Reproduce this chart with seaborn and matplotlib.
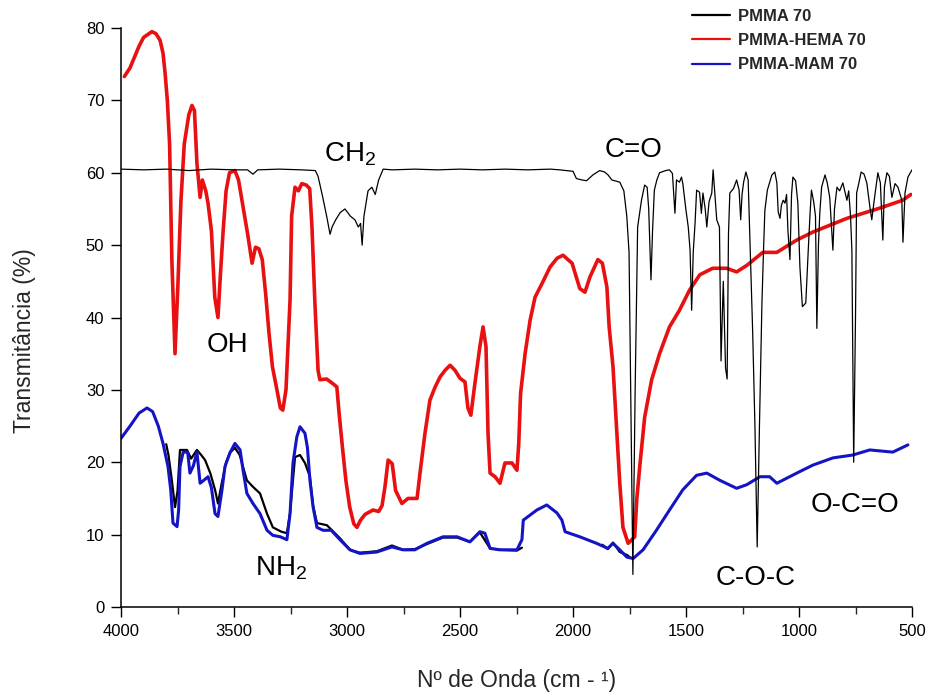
import numpy as np
import pandas as pd
import matplotlib
matplotlib.use("Agg")
import matplotlib.pyplot as plt
import seaborn as sns

# ---------------- data ----------------
pmma_wn = [4000, 3900, 3800, 3700, 3600, 3500, 3440, 3416, 3395, 3300, 3200, 3140, 3128, 3110,
           3090, 3075, 3066, 3050, 3030, 3009, 2985, 2965, 2950, 2940, 2933, 2925, 2907, 2890,
           2875, 2860, 2840, 2800, 2700, 2600, 2500, 2400, 2300, 2200, 2100, 2059, 2000, 1985,
           1960, 1940, 1912, 1882, 1860, 1845, 1828, 1793, 1775, 1762, 1752, 1745, 1735, 1725,
           1714, 1697, 1683, 1672, 1665, 1655, 1648, 1640, 1629, 1617, 1590, 1573, 1560, 1549,
           1542, 1529, 1520, 1514, 1500, 1490, 1482, 1475, 1468, 1460, 1453, 1440, 1432, 1425,
           1415, 1408, 1398, 1386, 1380, 1372, 1364, 1352, 1345, 1335, 1325, 1318, 1312, 1306,
           1290, 1276, 1265, 1258, 1252, 1245, 1235, 1225, 1218, 1205, 1195, 1185, 1175, 1164,
           1157, 1151, 1140, 1120, 1107, 1098, 1092, 1084, 1078, 1070, 1062, 1055, 1049, 1040,
           1033, 1027, 1015, 1005, 996, 985, 970, 958, 951, 945, 935, 927, 921, 914, 908, 900,
           885, 875, 864, 855, 850, 843, 832, 820, 806, 788, 780, 772, 766, 758, 750, 745, 735,
           725, 712, 700, 686, 678, 668, 651, 640, 629, 622, 611, 600, 589, 575, 562, 545, 540,
           531, 518, 500]
pmma_t = [60.5, 60.4, 60.5, 60.3, 60.5, 60.4, 60.4, 59.8, 60.4, 60.5, 60.4, 60.3, 59.5, 57,
          54, 51.5, 52.5, 53.5, 54.5, 55, 54, 53.5, 52.5, 53, 50, 54, 57.5, 58,
          57, 59, 60.5, 60.4, 60.5, 60.4, 60.5, 60.4, 60.5, 60.4, 60.5, 60.4, 60.2, 59.2,
          59, 58.9, 59.7, 60.3, 60.1, 59.7, 59, 58.7, 57.5, 54, 49, 30, 4.5, 30,
          52.5, 56.2, 58.3, 58, 55, 45.2, 52, 57.6, 59, 60, 60.3, 60.4, 59.9, 54.4,
          59, 58.7, 59.4, 58.5, 54.8, 52.5, 49.3, 41, 49, 53, 57.6, 57.3, 54.4, 57.2,
          55, 52.5, 56, 57.2, 60.4, 57, 53.5, 52.5, 34, 45, 33, 31.5, 51.6, 57.2,
          57.8, 59, 57.6, 53.5, 57, 58.7, 60.1, 59, 51.6, 38, 25, 8.3, 25, 42,
          49.3, 54.8, 57.6, 59.7, 60.1, 58.6, 54.6, 53.7, 55.5, 56.2, 55.8, 57, 52, 48,
          57, 59.4, 58.9, 55.8, 47, 41.5, 42, 50, 54.4, 57.6, 56, 54, 38.5, 50, 54.4, 58,
          59.7, 58.6, 56.6, 52, 49.3, 55, 58, 57.5, 58.6, 56.2, 57.5, 54, 49.3, 20, 40, 57.2, 58.6,
          60.1, 59.8, 58.6, 55.2, 53.5, 56, 60, 58.6, 50.7, 58, 60, 59.5, 56.6, 58.5, 58, 56.2, 50.4,
          57.2, 59.4, 60.4]

# lower black trace (drawn under the blue one, two pieces)
low_wn = [3800, 3790, 3775, 3761, 3750, 3739, 3708, 3690, 3664, 3645, 3628, 3605, 3584, 3571,
          3555, 3535, 3518, 3496, 3475, 3443, 3416, 3385, 3354, 3328, 3290, 3266, 3252, 3230,
          3208, 3186, 3164, 3150, 3133, 3089, 3031, 2987, 2943, 2868, 2801, 2752, 2700, 2646,
          2575, 2513, 2456, 2412, 2367, 2323, 2248, 2226,
          1870, 1846, 1823, 1793, 1762, 1745]
low_t = [22.5, 21, 17.5, 13.8, 16, 21.7, 21.7, 20.5, 21.7, 21, 20.3, 18.5, 16.2, 14.3,
         17, 20, 21.3, 22, 21, 17.5, 16.6, 15.7, 12.9, 11, 10.4, 10.2, 13, 20.7,
         21, 19.9, 18, 14, 11.6, 11.3, 9.5, 7.9, 7.5, 7.7, 8.5, 7.9, 8.0, 8.7,
         9.6, 9.6, 9.0, 10.3, 8.1, 7.9, 7.8, 8.2,
         8.6, 8.0, 8.9, 7.6, 7.2, 6.8]
low_seg = [0] * 50 + [1] * 6

hema_wn = [3985, 3960, 3940, 3920, 3900, 3863, 3845, 3827, 3814, 3805, 3795, 3785, 3775, 3761,
           3748, 3735, 3720, 3700, 3686, 3675, 3664, 3650, 3640, 3625, 3615, 3600, 3585, 3571,
           3560, 3548, 3535, 3520, 3496, 3480, 3460, 3440, 3420, 3405, 3390, 3375, 3360, 3345,
           3330, 3310, 3295, 3284, 3270, 3252, 3245, 3230, 3215, 3200, 3180, 3165, 3155, 3142,
           3128, 3120, 3090, 3060, 3045, 3035, 3020, 3005, 2988, 2970, 2956, 2940, 2920, 2885,
           2860, 2845, 2832, 2818, 2800, 2785, 2757, 2730, 2690, 2677, 2655, 2633, 2610, 2588,
           2566, 2544, 2522, 2500, 2478, 2465, 2452, 2434, 2412, 2398, 2385, 2376, 2367, 2345,
           2323, 2301, 2270, 2248, 2240, 2232, 2212, 2190, 2168, 2137, 2101, 2070, 2044, 2004,
           1970, 1947, 1925, 1890, 1870, 1850, 1840, 1823, 1806, 1793, 1779, 1756, 1727, 1718,
           1705, 1683, 1652, 1617, 1573, 1529, 1484, 1439, 1382, 1320, 1276, 1231, 1160, 1098,
           1010, 939, 788, 644, 541, 505]
hema_t = [73.3, 74.5, 76, 77.5, 78.7, 79.5, 79.2, 78.3, 76.5, 73.8, 70, 64, 48, 35,
          44.7, 56, 64, 68, 69.3, 68.6, 61.3, 56.6, 59, 57.5, 55.8, 52, 42.8, 40,
          46, 52, 57.5, 60, 60.3, 59, 55.3, 51.6, 47.5, 49.7, 49.5, 48, 43.3, 37.8,
          33.2, 30, 27.5, 27.2, 30, 42.4, 54, 58, 57.5, 58.5, 58.3, 57.8, 52.5, 42,
          32.7, 31.4, 31.5, 30.8, 30.4, 26.8, 22, 17.5, 13.8, 11.5, 11, 12, 12.8, 13.4,
          13.2, 14, 16.6, 20.3, 19.8, 16.1, 14.3, 15, 15, 18.5, 24, 28.6, 30.4, 31.8,
          32.7, 33.4, 32.7, 31.6, 31.1, 27.5, 26.5, 30.9, 36, 38.7, 36, 24, 18.5, 18,
          17.1, 19.9, 19.9, 18.9, 22.6, 29.5, 35, 39.6, 42.8, 44.7, 47, 48.2, 48.6, 47.5,
          44, 43.5, 45.6, 48, 47.5, 44.2, 38.7, 33.2, 24, 17.1, 11, 8.8, 9.7, 14.8,
          19.3, 26.2, 31.4, 35, 38.7, 41, 43.8, 45.9, 46.8, 46.8, 46.3, 47.2, 49, 49,
          50.7, 51.8, 53.7, 55.1, 56.2, 57]

mam_wn = [4000, 3960, 3920, 3885, 3860, 3835, 3814, 3792, 3780, 3770, 3752, 3745, 3739, 3725,
          3705, 3695, 3680, 3664, 3650, 3630, 3615, 3600, 3584, 3571, 3553, 3540, 3518, 3496,
          3473, 3460, 3443, 3416, 3385, 3354, 3328, 3295, 3266, 3252, 3239, 3222, 3208, 3186,
          3175, 3164, 3150, 3133, 3106, 3070, 3031, 2987, 2943, 2868, 2801, 2752, 2700, 2646,
          2575, 2513, 2456, 2412, 2390, 2367, 2323, 2248, 2226, 2220, 2160, 2116, 2071, 2049,
          2035, 1970, 1896, 1846, 1823, 1793, 1762, 1734, 1690, 1631, 1573, 1514, 1453, 1408,
          1350, 1276, 1231, 1173, 1130, 1098, 1010, 939, 850, 762, 687, 585, 518]
mam_t = [23.3, 25, 26.8, 27.5, 27, 25, 22.6, 19.4, 16.2, 11.6, 11.1, 13.4, 19.4, 21.4,
         21.4, 18.5, 19.5, 21.4, 17.1, 17.6, 18, 16.5, 12.9, 12.5, 16.2, 19.4, 21.3, 22.6,
         21.7, 18.9, 15.7, 14.3, 12.9, 10.6, 9.9, 9.7, 9.3, 12.9, 19.9, 23.5, 24.9, 24,
         22, 17.5, 13.8, 11, 10.6, 10.6, 9.3, 7.9, 7.4, 7.6, 8.3, 7.9, 7.9, 8.8,
         9.7, 9.7, 9.0, 10.4, 10.2, 8.1, 7.9, 7.9, 9.3, 12, 13.4, 14.1, 13, 12,
         10.4, 9.7, 8.8, 8.1, 8.8, 7.9, 6.9, 6.7, 7.9, 10.6, 13.4, 16.2, 18.2, 18.5,
         17.5, 16.4, 16.9, 18, 18, 17.1, 18.5, 19.6, 20.6, 21, 21.7, 21.4, 22.4]

series_labels = ["PMMA 70", "PMMA-HEMA 70", "PMMA-MAM 70"]
x_ticks = [4000, 3500, 3000, 2500, 2000, 1500, 1000, 500]
y_ticks = [0, 10, 20, 30, 40, 50, 60, 70, 80]
annotations = [("CH$_\\mathrm{2}$", 2987, 62.6), ("C=O", 1734, 63.2), ("OH", 3527, 36.2),
               ("NH$_\\mathrm{2}$", 3292, 5.4), ("C-O-C", 1190, 4.0), ("O-C=O", 752, 14.1)]

# ---------------- style ----------------
sns.set_style("ticks")
plt.rcParams["font.family"] = ["Liberation Sans", "DejaVu Sans"]
plt.rcParams["mathtext.fontset"] = "custom"
plt.rcParams["mathtext.rm"] = "Liberation Sans"
plt.rcParams["mathtext.it"] = "Liberation Sans:italic"
plt.rcParams["mathtext.bf"] = "Liberation Sans:bold"

fig = plt.figure(figsize=(9.3, 6.95), dpi=100)
ax = fig.add_axes([121 / 930, 1 - 607 / 695, (912 - 121) / 930, (607 - 28) / 695])

df_low = pd.DataFrame({"wn": low_wn, "t": low_t, "seg": low_seg})
df_pmma = pd.DataFrame({"wn": pmma_wn, "t": pmma_t})
df_hema = pd.DataFrame({"wn": hema_wn, "t": hema_t})
df_mam = pd.DataFrame({"wn": mam_wn, "t": mam_t})

RED = "#e81010"
BLUE = "#1414c4"

sns.lineplot(data=df_low, x="wn", y="t", units="seg", estimator=None, color="black",
             lw=1.6, ax=ax, zorder=1)
sns.lineplot(data=df_mam, x="wn", y="t", estimator=None, color=BLUE, lw=2.2, ax=ax,
             zorder=2, label=series_labels[2])
sns.lineplot(data=df_hema, x="wn", y="t", estimator=None, color=RED, lw=2.6, ax=ax,
             zorder=3, label=series_labels[1])
sns.lineplot(data=df_pmma, x="wn", y="t", estimator=None, color="black", lw=0.9, ax=ax,
             zorder=4, label=series_labels[0])

ax.set_xlim(4000, 500)
ax.set_ylim(0, 80)
ax.set_xticks(x_ticks)
ax.set_xticks(np.arange(500, 4001, 250), minor=True)
ax.set_yticks(y_ticks)
ax.tick_params(axis="both", which="major", direction="out", length=7, width=1,
               labelsize=12, colors="black", pad=5)
ax.tick_params(axis="x", which="minor", direction="out", length=5, width=1)
sns.despine(ax=ax)
for s in ["left", "bottom"]:
    ax.spines[s].set_color("black")
    ax.spines[s].set_linewidth(1.1)

ax.set_xlabel("Nº de Onda (cm - ¹)", fontsize=16.5)
ax.set_ylabel("Transmitância (%)", fontsize=16.5)
ax.xaxis.set_label_coords(0.5, -0.107)
ax.yaxis.set_label_coords(-0.108, 0.46)

for txt, xw, yv in annotations:
    ax.text(xw, yv, txt, fontsize=20, ha="center", va="center", color="black", zorder=6)

# legend at top right, in figure coordinates
handles, labels = ax.get_legend_handles_labels()
order = [labels.index(l) for l in series_labels]
ax.get_legend().remove()
leg = fig.legend([handles[i] for i in order], [labels[i] for i in order],
                 loc="upper left", bbox_to_anchor=(692 / 930, 1 - 9 / 695),
                 frameon=False, borderpad=0, borderaxespad=0, handlelength=2.3,
                 handletextpad=0.45, labelspacing=0.55,
                 prop={"size": 12, "weight": "bold"})
for h in leg.get_lines():
    h.set_linewidth(1.6)

fig.savefig("out.png", dpi=100)
